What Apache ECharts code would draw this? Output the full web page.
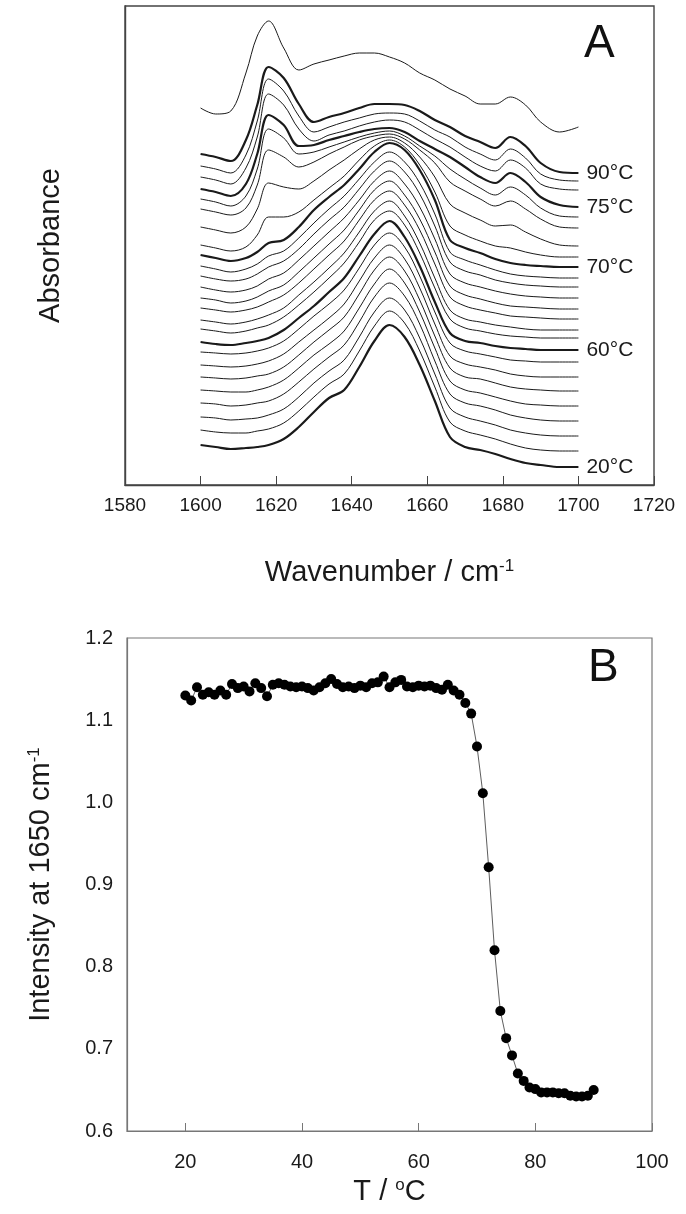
<!DOCTYPE html>
<html><head><meta charset="utf-8">
<script src="https://cdn.jsdelivr.net/npm/echarts@6/dist/echarts.min.js"></script>
<style>html,body{margin:0;padding:0;background:#fff}#c{width:686px;height:1214px}</style>
</head><body><div id="c"></div>
<script>
// ---------- Panel A : stacked IR spectra (amide I region) ----------
const wavenumbers = [1600,1604,1608,1612,1615,1618,1622,1626,1630,1634,1638,1642,1646,1650,1654,1658,1662,1666,1670,1674,1678,1682,1686,1690,1695,1700];
// curve labels shown at the right (bottom curve first)
const curveLabels = ['20°C','','','','','','','','60°C','','','','','','','','70°C','','','','','75°C','','','90°C',''];
// vertical stacking offset of each spectrum (arbitrary absorbance units)
const offsets = [40,55,68,82,95,108,120,133,143,156,165,177,187,198,209,219,230,240,258,276,286,296,308,319,331,377];
// each spectrum relative to its own value at 1600 cm-1 (arbitrary absorbance units)
const spectra = [
  [0,-2,-4,-3,-2,0,6,18,33,47,55,78,104,120,108,80,44,8,-2,-5,-9,-14,-18,-20,-22,-22],
  [0,-2,-3,-3,-1,1,7,19,33,46,56,79,104,119,107,79,43,8,-1,-5,-9,-14,-18,-20,-21,-21],
  [0,-1,-3,-2,-1,2,8,20,34,46,57,80,105,119,107,79,43,9,0,-4,-8,-13,-16,-18,-19,-19],
  [0,-1,-3,-2,0,2,9,21,34,46,58,81,106,120,107,79,42,9,0,-3,-7,-12,-15,-17,-18,-18],
  [0,-1,-2,-2,0,3,10,22,35,46,59,82,106,121,107,78,42,9,0,-3,-7,-11,-14,-15,-16,-16],
  [0,-1,-2,-1,1,3,10,22,35,47,60,83,107,120,106,77,41,9,0,-2,-6,-10,-12,-13,-14,-14],
  [0,-1,-2,-1,1,4,11,23,35,47,61,84,107,120,106,77,41,9,1,-2,-5,-9,-11,-12,-12,-12],
  [0,-1,-2,-1,1,4,11,23,36,48,62,84,107,119,105,76,40,9,1,-2,-5,-8,-9,-10,-10,-10],
  [0,-2,-3,-1,1,4,12,24,36,50,64,86,108,121,105,76,40,9,1,-1,-4,-6,-7,-8,-8,-8],
  [0,-2,-4,-2,1,4,12,24,37,51,66,87,109,118,104,76,41,10,1,-2,-5,-7,-8,-9,-9,-9],
  [0,-2,-4,-2,1,5,12,25,38,52,67,88,109,119,104,77,42,10,1,-2,-5,-7,-9,-10,-10,-10],
  [0,-2,-4,-2,1,6,13,25,39,53,67,88,108,117,103,78,44,11,2,-2,-5,-8,-9,-10,-11,-11],
  [0,-2,-5,-3,1,7,13,26,40,54,68,88,108,117,103,79,46,12,3,-1,-5,-8,-9,-10,-11,-11],
  [0,-3,-5,-3,1,8,14,27,41,55,69,87,106,116,103,80,48,13,4,0,-4,-7,-9,-10,-11,-11],
  [0,-3,-5,-3,2,9,15,27,42,56,69,87,105,115,104,82,50,14,5,1,-4,-7,-9,-10,-11,-11],
  [0,-3,-6,-3,2,10,15,28,43,57,70,87,104,114,104,83,52,14,6,1,-4,-8,-10,-11,-12,-12],
  [0,-3,-6,-3,3,12,15,28,45,58,70,86,103,112,105,85,55,15,7,2,-4,-8,-10,-11,-12,-12],
  [0,-3,-6,-2,10,28,28,33,45,57,69,85,99,105,98,80,53,19,10,4,-1,-3,-7,-10,-12,-12],
  [0,-3,-6,0,18,44,40,38,46,57,67,78,87,90,84,70,50,23,14,7,1,2,-5,-12,-18,-19],
  [0,-3,-6,1,24,59,52,42,47,55,62,69,73,75,70,59,46,27,18,10,3,8,0,-10,-18,-19],
  [0,-3,-7,3,30,70,61,45,47,52,57,62,66,68,63,53,43,30,20,11,4,12,4,-9,-17,-18],
  [0,-3,-7,5,35,74,64,43,44,49,53,57,60,61,57,48,40,32,22,12,6,16,7,-8,-16,-18],
  [0,-3,-7,9,40,83,72,48,36,42,46,51,55,57,55,47,38,30,20,11,6,17,9,-7,-12,-13],
  [0,-3,-7,11,45,87,75,50,34,39,44,48,52,53,52,45,36,29,19,12,6,17,8,-8,-14,-15],
  [0,-3,-7,14,49,87,76,50,32,37,41,46,50,50,49,43,34,27,18,12,6,17,8,-9,-18,-19],
  [0,-6,-3,35,72,87,60,38,44,48,52,55,55,51,45,35,28,19,12,4,4,11,3,-14,-24,-19]
];
const wavenumberTicks = [1580,1600,1620,1640,1660,1680,1700,1720];

// ---------- Panel B : intensity at 1650 cm-1 vs temperature ----------
const temperatures = [20,21,22,23,24,25,26,27,28,29,30,31,32,33,34,35,36,37,38,39,40,41,42,43,44,45,46,47,48,49,50,51,52,53,54,55,56,57,58,59,60,61,62,63,64,65,66,67,68,69,70,71,72,73,74,75,76,77,78,79,80,81,82,83,84,85,86,87,88,89,90];
const intensity1650 = [1.130,1.124,1.140,1.131,1.134,1.131,1.136,1.131,1.144,1.139,1.141,1.135,1.145,1.139,1.129,1.143,1.145,1.143,1.141,1.140,1.141,1.139,1.136,1.140,1.145,1.150,1.144,1.140,1.141,1.139,1.142,1.140,1.145,1.146,1.153,1.140,1.146,1.149,1.141,1.140,1.142,1.141,1.142,1.139,1.137,1.143,1.136,1.131,1.121,1.108,1.068,1.011,0.921,0.820,0.746,0.713,0.692,0.670,0.661,0.653,0.651,0.647,0.647,0.647,0.646,0.646,0.643,0.642,0.642,0.643,0.650];
const temperatureTicks = [20,40,60,80,100];
const intensityTicks = [0.6,0.7,0.8,0.9,1.0,1.1,1.2];

const FONT = 'Liberation Sans, Arial, sans-serif';
const INK = '#1a1a1a';
const supStyle = {sup: {fontSize: 17, verticalAlign: 'top', color: INK, fontFamily: FONT}};

const chart = echarts.init(document.getElementById('c'), null, {renderer: 'canvas'});

const seriesA = spectra.map((s, i) => {
  const lab = curveLabels[i];
  const thick = lab !== '';
  return {
    type: 'line', xAxisIndex: 0, yAxisIndex: 0,
    data: wavenumbers.map((w, j) => [w, offsets[i] + s[j]]),
    showSymbol: false, smooth: 0.35, silent: true,
    lineStyle: {color: INK, width: thick ? 2.2 : 1},
    endLabel: thick ? {show: true, formatter: lab, color: INK, fontSize: 21, fontFamily: FONT, distance: 8} : {show: false},
    z: thick ? 3 : 2
  };
});

const seriesB = {
  type: 'line', xAxisIndex: 1, yAxisIndex: 1,
  data: temperatures.map((t, i) => [t, intensity1650[i]]),
  symbol: 'circle', symbolSize: 10, showSymbol: true,
  itemStyle: {color: '#000'},
  lineStyle: {color: '#333', width: 0.8},
  silent: true
};

chart.setOption({
  backgroundColor: '#fff',
  animation: false,
  textStyle: {fontFamily: FONT},
  grid: [
    {left: 125, top: 6, width: 529, height: 479, show: true, borderColor: '#444', borderWidth: 1.4, backgroundColor: 'transparent'},
    {left: 127, top: 638, width: 525, height: 493, show: true, borderColor: '#777', borderWidth: 1.2, backgroundColor: 'transparent'}
  ],
  xAxis: [
    {
      gridIndex: 0, type: 'value', min: 1580, max: 1720, interval: 20,
      axisLine: {show: true, lineStyle: {color: '#444', width: 1.4}},
      axisTick: {show: true, inside: true, length: 9, lineStyle: {color: '#444'}, customValues: wavenumberTicks},
      axisLabel: {show: true, color: INK, fontSize: 19, margin: 11, fontFamily: FONT, customValues: wavenumberTicks, formatter: v => String(v)},
      splitLine: {show: false},
      name: 'Wavenumber / cm{sup|-1}', nameLocation: 'middle', nameGap: 73,
      nameTextStyle: {color: INK, fontSize: 29, fontFamily: FONT, rich: supStyle}
    },
    {
      gridIndex: 1, type: 'value', min: 10, max: 100, interval: 10,
      axisLine: {show: true, lineStyle: {color: '#777', width: 1.2}},
      axisTick: {show: true, inside: true, length: 8, lineStyle: {color: '#777'}, customValues: temperatureTicks},
      axisLabel: {show: true, color: INK, fontSize: 20, margin: 21, fontFamily: FONT, customValues: temperatureTicks, formatter: v => String(v)},
      splitLine: {show: false},
      name: 'T / {sup|o}C', nameLocation: 'middle', nameGap: 46,
      nameTextStyle: {color: INK, fontSize: 29, fontFamily: FONT, rich: supStyle}
    }
  ],
  yAxis: [
    {
      gridIndex: 0, type: 'value', min: 0, max: 479,
      axisLine: {show: true, lineStyle: {color: '#444', width: 1.4}},
      axisTick: {show: false}, axisLabel: {show: false}, splitLine: {show: false},
      name: 'Absorbance', nameLocation: 'middle', nameGap: 60,
      nameTextStyle: {color: INK, fontSize: 29, fontFamily: FONT}
    },
    {
      gridIndex: 1, type: 'value', min: 0.6, max: 1.2, interval: 0.1,
      axisLine: {show: true, lineStyle: {color: '#777', width: 1.2}},
      axisTick: {show: false},
      axisLabel: {show: true, color: INK, fontSize: 20, margin: 14, fontFamily: FONT, customValues: intensityTicks, formatter: v => v.toFixed(1)},
      splitLine: {show: false},
      name: 'Intensity at 1650 cm{sup|-1}', nameLocation: 'middle', nameGap: 72,
      nameTextStyle: {color: INK, fontSize: 29, fontFamily: FONT, rich: supStyle}
    }
  ],
  graphic: [
    {type: 'text', left: 584, top: 21, style: {text: 'A', font: '46px Liberation Sans, Arial, sans-serif', fill: '#111'}},
    {type: 'text', left: 588, top: 645, style: {text: 'B', font: '46px Liberation Sans, Arial, sans-serif', fill: '#111'}}
  ],
  series: seriesA.concat([seriesB])
});
</script>
</body></html>
